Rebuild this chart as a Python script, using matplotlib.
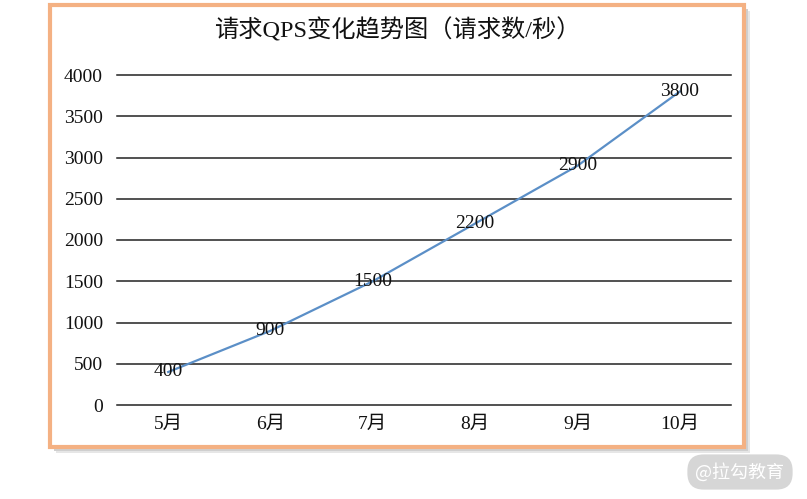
import matplotlib
matplotlib.use("Agg")
import matplotlib.pyplot as plt
from matplotlib.patches import Rectangle

months = ["5月", "6月", "7月", "8月", "9月", "10月"]
qps = [400, 900, 1500, 2200, 2900, 3800]
yticks = [0, 500, 1000, 1500, 2000, 2500, 3000, 3500, 4000]
title = "请求QPS变化趋势图（请求数/秒）"
watermark = "@拉勾教育"

W, H = 807, 499
fig = plt.figure(figsize=(W / 100, H / 100), dpi=100)
fig.patch.set_facecolor("white")
FONT = ["Liberation Serif", "Noto Sans CJK SC", "DejaVu Sans"]

def px(x0, y0, x1, y1):
    return (x0 / W, 1 - y1 / H, (x1 - x0) / W, (y1 - y0) / H)

# shadow
for off, col in [(6, "#e6e6e6"), (4, "#cfcfcf")]:
    sx, sy, sw, sh = px(50 + off, 5 + off, 744 + off, 447 + off)
    fig.patches.append(Rectangle((sx, sy), sw, sh, transform=fig.transFigure,
                                 facecolor=col, edgecolor="none", zorder=0))
# frame
fx, fy, fw, fh = px(50, 5, 744, 447)
fig.patches.append(Rectangle((fx, fy), fw, fh, transform=fig.transFigure,
                             facecolor="white", edgecolor="#F4B183", linewidth=3, zorder=1))

ax = fig.add_axes(px(117, 75, 731, 405))
ax.set_facecolor("none")
ax.set_zorder(2)
x = list(range(len(months)))
ax.plot(x, qps, color="#5B8FC7", linewidth=1.6, zorder=3)
for xi, v in zip(x, qps):
    ax.text(xi, v, str(v), ha="center", va="center", fontsize=14,
            family=FONT, color="#111111", zorder=4)

ax.set_xlim(-0.5, len(months) - 0.5)
ax.set_ylim(0, 4000)
ax.set_yticks(yticks)
ax.set_yticklabels([str(t) for t in yticks], family=FONT, fontsize=14, color="#111111")
ax.set_xticks(x)
ax.set_xticklabels(months, family=FONT, fontsize=14, color="#111111")
ax.tick_params(axis="both", length=0)
ax.tick_params(axis="y", pad=10)
ax.tick_params(axis="x", pad=8)
for s in ax.spines.values():
    s.set_visible(False)
ax.yaxis.grid(True, color="#222222", linewidth=1.1)
for gl in ax.yaxis.get_gridlines():
    gl.set_clip_on(False)
ax.set_axisbelow(True)

fig.text(397 / W, 1 - 30 / H, title, ha="center", va="center", fontsize=17.5,
         family=FONT, color="#111111")

fig.text(740 / W, 1 - 472 / H, watermark, ha="center", va="center", fontsize=13,
         family=["Noto Sans CJK SC", "DejaVu Sans"], color="white",
         bbox=dict(boxstyle="round,pad=0.45,rounding_size=0.9", facecolor="#d6d6d6",
                   edgecolor="none"))

fig.savefig("out.png", dpi=100)
